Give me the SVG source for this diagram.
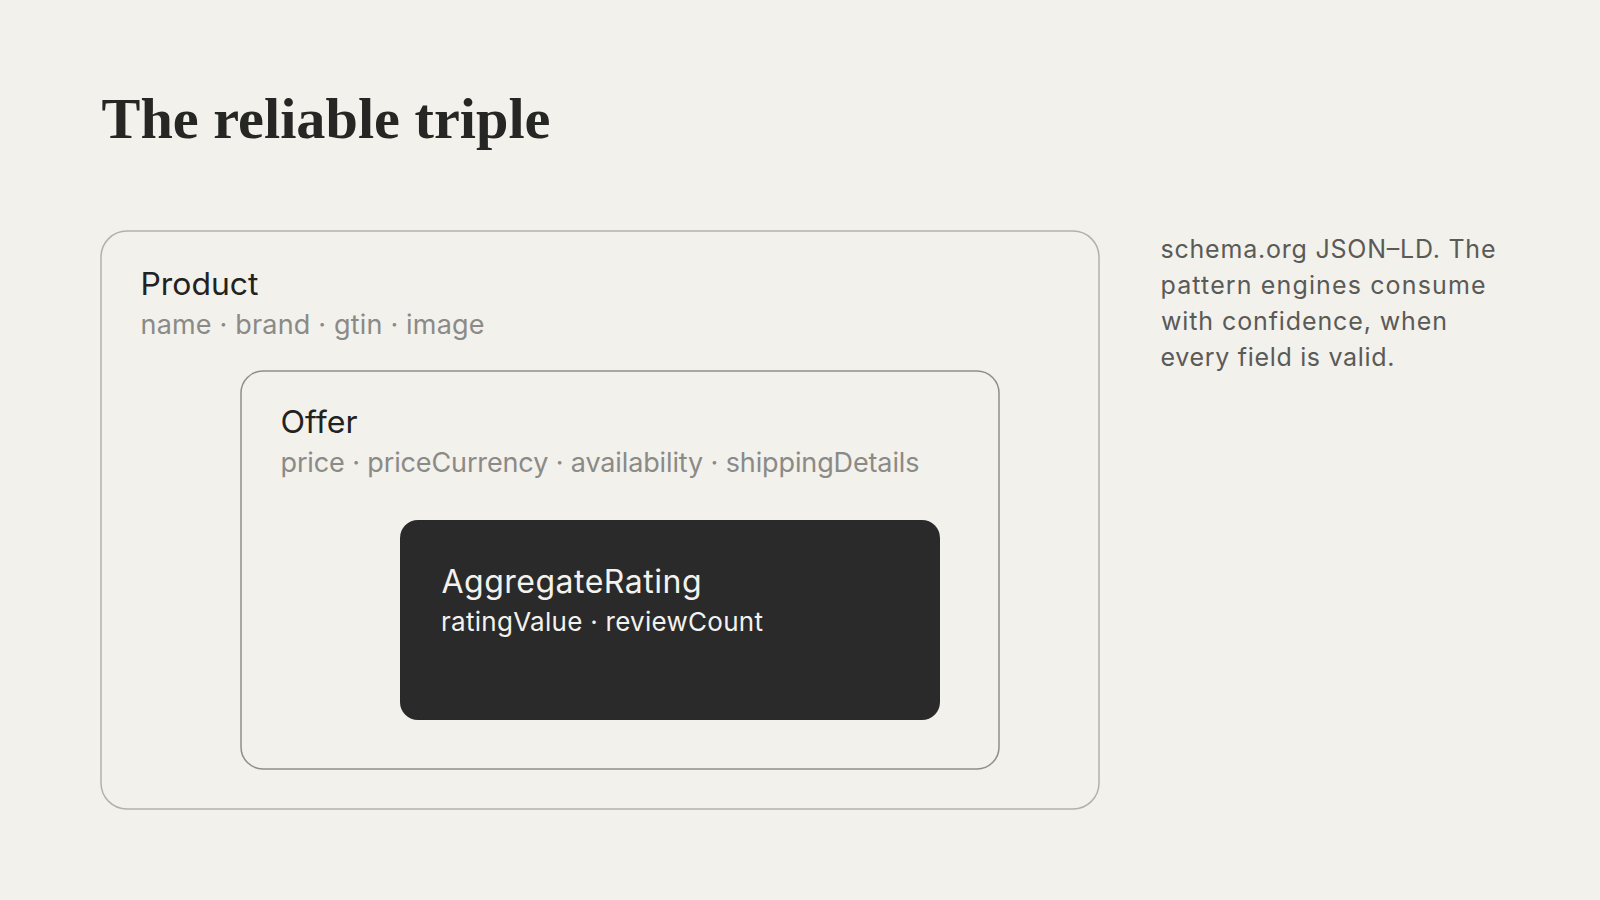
<svg xmlns="http://www.w3.org/2000/svg" width="1600" height="900" viewBox="0 0 1600 900">
  <style>
    .title { font-family: "Liberation Serif", "DejaVu Serif", serif; font-weight: 700; font-size: 58px; fill: #262624; }
    .name { font-family: Inter, "Liberation Sans", sans-serif; font-size: 31px; fill: #222220; }
    .props { font-family: Inter, "Liberation Sans", sans-serif; font-size: 27px; fill: #8b8a86; }
    .name-inv { font-family: Inter, "Liberation Sans", sans-serif; font-size: 32px; fill: #f3f2ee; }
    .props-inv { font-family: Inter, "Liberation Sans", sans-serif; font-size: 26px; fill: #f3f2ee; }
    .note { font-family: Inter, "Liberation Sans", sans-serif; font-size: 25px; fill: #5a5a57; }
    .outer { fill: none; stroke: #b3b1ab; stroke-width: 1.5; }
    .mid { fill: none; stroke: #8f8e8a; stroke-width: 1.5; }
    .inner { fill: #2a2a2a; }
  </style>
  <rect x="0" y="0" width="1600" height="900" fill="#f2f1ec"/>
  <text class="title" x="101.5" y="138" textLength="449" lengthAdjust="spacingAndGlyphs">The reliable triple</text>

  <g id="product">
    <rect class="outer" x="101" y="231" width="998" height="578" rx="26" ry="26"/>
    <text class="name" x="140.5" y="294.5" textLength="118" lengthAdjust="spacingAndGlyphs">Product</text>
    <text class="props" x="140.5" y="333.5" textLength="344" lengthAdjust="spacing">name · brand · gtin · image</text>
  </g>

  <g id="offer">
    <rect class="mid" x="241" y="371" width="758" height="398" rx="22" ry="22"/>
    <text class="name" x="280.5" y="432.5" textLength="77" lengthAdjust="spacingAndGlyphs">Offer</text>
    <text class="props" x="280.5" y="472" textLength="639" lengthAdjust="spacing">price · priceCurrency · availability · shippingDetails</text>
  </g>

  <g id="aggregate-rating">
    <rect class="inner" x="400" y="520" width="540" height="200" rx="18" ry="18"/>
    <text class="name-inv" x="441.5" y="592.5" textLength="260" lengthAdjust="spacing">AggregateRating</text>
    <text class="props-inv" x="441" y="631" textLength="322" lengthAdjust="spacing">ratingValue · reviewCount</text>
  </g>

  <g id="connectors"></g>

  <g id="note">
    <text class="note" x="1160.5" y="257.5" textLength="335" lengthAdjust="spacing">schema.org JSON–LD. The</text>
    <text class="note" x="1160.5" y="293.5" textLength="325" lengthAdjust="spacing">pattern engines consume</text>
    <text class="note" x="1161" y="330" textLength="286" lengthAdjust="spacing">with confidence, when</text>
    <text class="note" x="1160.5" y="366" textLength="234" lengthAdjust="spacing">every field is valid.</text>
  </g>
</svg>
